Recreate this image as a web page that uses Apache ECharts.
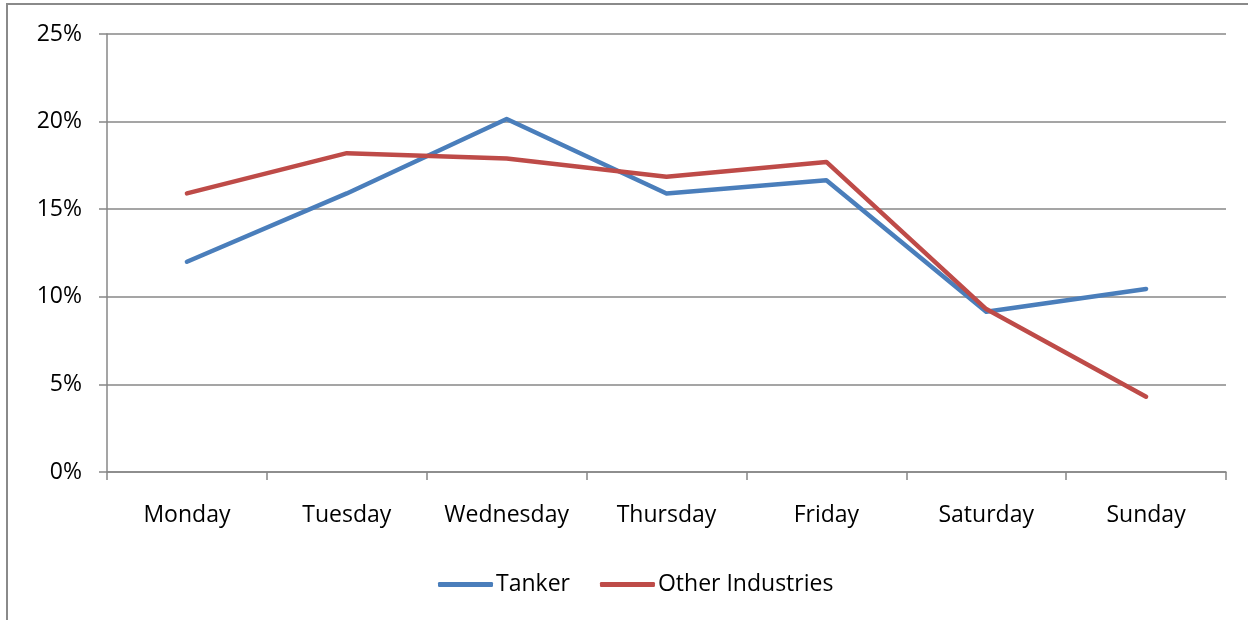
<!DOCTYPE html>
<html>
<head>
<meta charset="utf-8">
<script src="https://cdn.jsdelivr.net/npm/echarts@6/dist/echarts.min.js"></script>
<style>html,body{margin:0;padding:0;background:#fff;}#c{width:1248px;height:620px;}</style>
</head>
<body>
<div id="c"></div>
<script>
var categories = ['Monday', 'Tuesday', 'Wednesday', 'Thursday', 'Friday', 'Saturday', 'Sunday'];
var tanker = [12.0, 15.9, 20.15, 15.9, 16.65, 9.15, 10.45];
var otherIndustries = [15.9, 18.2, 17.9, 16.85, 17.7, 9.3, 4.3];
var seriesNames = ['Tanker', 'Other Industries'];
var yTicks = { min: 0, max: 25, interval: 5 };

var font = '"Open Sans", sans-serif';
var gridColor = '#878787';
var chart = echarts.init(document.getElementById('c'), null, { renderer: 'canvas' });
chart.setOption({
  backgroundColor: '#ffffff',
  animation: false,
  graphic: [{
    type: 'rect',
    shape: { x: 7, y: 4, width: 1300, height: 700 },
    style: { fill: 'none', stroke: '#8a8a8a', lineWidth: 2 },
    silent: true
  }],
  grid: { left: 107, right: 22, top: 34, bottom: 148, containLabel: false },
  legend: {
    data: seriesNames,
    left: 433,
    top: 568,
    icon: 'roundRect',
    itemWidth: 55,
    itemHeight: 5,
    itemGap: 30,
    textStyle: { fontFamily: font, fontSize: 23, color: '#000', padding: [0, 0, 0, -2] }
  },
  xAxis: {
    type: 'category',
    data: categories,
    boundaryGap: true,
    axisLine: { show: true, lineStyle: { color: gridColor, width: 1.5 } },
    axisTick: { show: true, interval: 0, length: 8, alignWithLabel: false, lineStyle: { color: gridColor, width: 1.5 } },
    axisLabel: { interval: 0, hideOverlap: false, fontFamily: font, fontSize: 23, color: '#000', margin: 32 },
    splitLine: { show: false }
  },
  yAxis: {
    type: 'value',
    min: yTicks.min,
    max: yTicks.max,
    interval: yTicks.interval,
    axisLine: { show: true, lineStyle: { color: gridColor, width: 1.5 } },
    axisTick: { show: true, length: 8, lineStyle: { color: gridColor, width: 1.5 } },
    axisLabel: { fontFamily: font, fontSize: 23, color: '#000', margin: 25, formatter: '{value}%' },
    splitLine: { show: true, lineStyle: { color: gridColor, width: 1.5 } }
  },
  series: [
    {
      name: seriesNames[0], type: 'line', data: tanker, symbol: 'none',
      lineStyle: { color: '#4a7ebb', width: 4.5, cap: 'round', join: 'round' },
      itemStyle: { color: '#4a7ebb' }
    },
    {
      name: seriesNames[1], type: 'line', data: otherIndustries, symbol: 'none',
      lineStyle: { color: '#be4b48', width: 4.5, cap: 'round', join: 'round' },
      itemStyle: { color: '#be4b48' }
    }
  ]
});
</script>
</body>
</html>
